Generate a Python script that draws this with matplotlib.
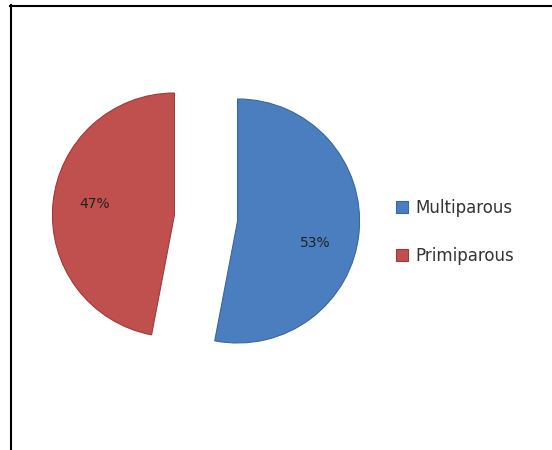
import matplotlib.pyplot as plt
from matplotlib.lines import Line2D

# data
labels = ['Multiparous', 'Primiparous']
shares = [53, 47]
colors = ['#4a7ebf', '#c0504d']

W, H = 552, 450
fig = plt.figure(figsize=(W / 100, H / 100), dpi=100)

# pie axes: centre ~(206, 218) px, 1 unit ~122 px
size = 305
cx, cy = 206, 218
ax = fig.add_axes([(cx - size / 2) / W, (H - cy - size / 2) / H, size / W, size / H])

wedges, texts, autotexts = ax.pie(
    shares, colors=colors, startangle=90, counterclock=False,
    explode=[0.26, 0.26], autopct=lambda p: f'{round(p)}%', pctdistance=0.64,
    wedgeprops=dict(linewidth=0.8, edgecolor='#3a679c'),
    textprops=dict(fontsize=10, color='#222222'))
wedges[1].set_edgecolor('#9e3b39')
ax.set_aspect('equal')
ax.set_xlim(-1.25, 1.25)
ax.set_ylim(-1.25, 1.25)

# nudge the percent labels toward where the reference has them
x, y = autotexts[0].get_position()
autotexts[0].set_position((x, y - 0.12))
x, y = autotexts[1].get_position()
autotexts[1].set_position((x - 0.02, y + 0.03))

fig.legend(wedges, labels, loc='upper left', bbox_to_anchor=(396 / W, 1 - 199 / H),
           frameon=False, fontsize=12, handlelength=0.7, handleheight=0.7,
           handletextpad=0.45, labelspacing=1.8, labelcolor='#333333',
           borderaxespad=0, borderpad=0)

# chart border (left and top edges only visible)
fig.add_artist(Line2D([10.5 / W, 10.5 / W], [0, 1 - 5 / H], color='black', lw=1.5,
                      transform=fig.transFigure))
fig.add_artist(Line2D([10 / W, 1], [1 - 5.5 / H, 1 - 5.5 / H], color='black', lw=1.5,
                      transform=fig.transFigure))

fig.savefig('out.png', dpi=100)
